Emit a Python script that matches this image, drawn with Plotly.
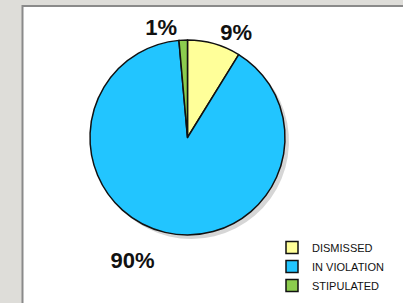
import plotly.graph_objects as go

labels = ["DISMISSED", "IN VIOLATION", "STIPULATED"]
values = [8.8, 89.8, 1.4]
colors = ["#FFFF99", "#22C5FF", "#8CCC4E"]
label_templates = ["%{percent:.0%}",
                   "\u00a0<br><span style='font-size:22px'>%{percent:.0%}</span>",
                   "%{percent:.0%}"]
label_sizes = [22, 17, 22]

W, H = 403, 303
cx, cy, r = 187.5, 137.5, 97.5

def dom(cx, cy, r):
    return dict(x=[(cx - r) / W, (cx + r) / W], y=[(H - cy - r) / H, (H - cy + r) / H])

fig = go.Figure()
# soft shadow
fig.add_trace(go.Pie(
    labels=labels, values=values, sort=False, direction="clockwise", rotation=0,
    domain=dom(cx + 4, cy + 4, r), marker=dict(colors=["rgba(0,0,0,0.16)"] * 3, line=dict(width=0)),
    textinfo="none", showlegend=False, hoverinfo="skip"))
fig.add_trace(go.Pie(
    labels=labels, values=values, sort=False, direction="clockwise", rotation=0,
    domain=dom(cx, cy, r),
    marker=dict(colors=colors, line=dict(color="#111111", width=1.5)),
    texttemplate=label_templates, textposition="outside",
    textfont=dict(family="Liberation Sans", size=label_sizes, color="#111111", weight="bold"),
    showlegend=True))

fig.add_shape(type="rect", xref="paper", yref="paper",
              x0=22.5 / W, x1=1.05, y0=-0.05, y1=(H - 6) / H,
              fillcolor="white", line=dict(color="#8a8a8a", width=2), layer="below")

fig.update_layout(
    width=W, height=H, margin=dict(l=0, r=0, t=0, b=0),
    paper_bgcolor="#DEDDD9", plot_bgcolor="white",
    legend=dict(x=272 / W, y=(H - 233) / H, xanchor="left", yanchor="top",
                font=dict(family="Liberation Sans", size=11, color="#111111"),
                bgcolor="rgba(0,0,0,0)", itemwidth=30),
)
fig.write_html("out.html", config={"displayModeBar": False},
               post_script="document.body.style.margin='0px';document.body.style.background='#DEDDD9';")
